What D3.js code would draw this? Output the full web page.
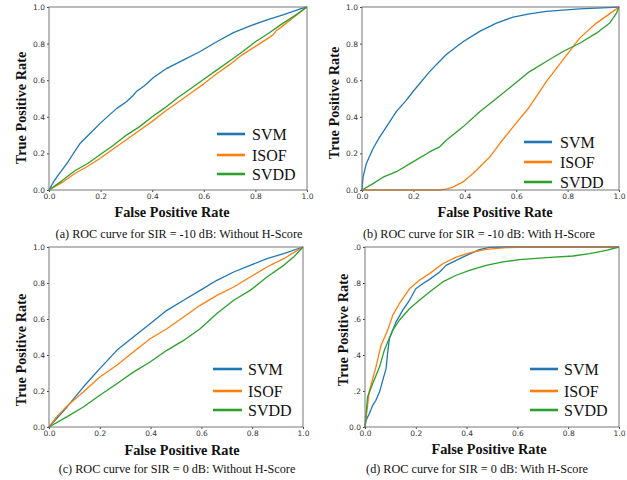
<!DOCTYPE html>
<html>
<head>
<meta charset="utf-8">
<script src="https://cdn.jsdelivr.net/npm/d3@7"></script>
<style>
  html, body { margin: 0; padding: 0; background: #fff; }
  svg { display: block; }
  .serif { font-family: "Liberation Serif", Tinos, "Times New Roman", Times, "DejaVu Serif", serif; }
  .sans { font-family: "DejaVu Sans", sans-serif; }
</style>
</head>
<body>
<svg id="chart" width="627" height="480"></svg>
<script>
// ---------------- DATA ----------------
const seriesNames = ["SVM", "ISOF", "SVDD"];
const seriesColors = ["#1f77b4", "#ff7f0e", "#2ca02c"];
const xTickLabels = ["0.0", "0.2", "0.4", "0.6", "0.8", "1.0"];
const yTickLabels = ["0.0", "0.2", "0.4", "0.6", "0.8", "1.0"];
const yTickLabelsD = ["0.0", ".2", ".4", ".6", ".8", ".0"];
const tickValues = [0, 0.2, 0.4, 0.6, 0.8, 1.0];
const captions = [
  "(a) ROC curve for SIR = -10 dB: Without H-Score",
  "(b) ROC curve for SIR = -10 dB: With H-Score",
  "(c) ROC curve for SIR = 0 dB: Without H-Score",
  "(d) ROC curve for SIR = 0 dB: With H-Score"
];
const xTitle = "False Positive Rate";
const yTitle = "True Positive Rate";

// (a) SIR = -10 dB, without H-Score  [FPR, TPR]
const aSVM = [[0,0],[0.02,0.05],[0.04,0.09],[0.069,0.144],[0.09,0.19],[0.12,0.254],[0.16,0.31],[0.198,0.364],[0.23,0.405],[0.263,0.446],[0.30,0.482],[0.325,0.515],[0.34,0.54],[0.37,0.57],[0.405,0.615],[0.457,0.665],[0.52,0.71],[0.586,0.757],[0.65,0.81],[0.715,0.86],[0.78,0.897],[0.845,0.93],[0.91,0.958],[0.974,0.99],[1,1]];
const aISOF = [[0,0],[0.05,0.04],[0.1,0.09],[0.15,0.13],[0.2,0.175],[0.25,0.225],[0.3,0.275],[0.35,0.325],[0.4,0.375],[0.45,0.43],[0.5,0.48],[0.55,0.53],[0.6,0.58],[0.65,0.635],[0.7,0.685],[0.75,0.74],[0.8,0.785],[0.85,0.83],[0.87,0.85],[0.88,0.87],[0.9,0.89],[0.95,0.945],[1,1]];
const aSVDD = [[0,0],[0.05,0.05],[0.1,0.105],[0.15,0.145],[0.2,0.195],[0.25,0.245],[0.3,0.3],[0.35,0.345],[0.4,0.4],[0.45,0.45],[0.5,0.505],[0.55,0.555],[0.6,0.605],[0.65,0.655],[0.7,0.705],[0.75,0.755],[0.8,0.81],[0.85,0.855],[0.9,0.905],[0.95,0.95],[1,1]];

// (b) SIR = -10 dB, with H-Score
const bSVM = [[0,0],[0.004,0.07],[0.017,0.145],[0.043,0.227],[0.069,0.29],[0.095,0.345],[0.134,0.43],[0.172,0.49],[0.198,0.537],[0.263,0.647],[0.328,0.74],[0.393,0.81],[0.458,0.867],[0.523,0.912],[0.588,0.945],[0.652,0.963],[0.717,0.976],[0.847,0.99],[0.977,0.998],[1,1]];
const bISOF = [[0,0],[0.3,0],[0.328,0.005],[0.354,0.016],[0.393,0.044],[0.432,0.09],[0.458,0.126],[0.497,0.18],[0.536,0.254],[0.588,0.345],[0.652,0.455],[0.717,0.592],[0.782,0.711],[0.847,0.83],[0.912,0.912],[0.977,0.976],[1,1]];
const bSVDD = [[0,0],[0.043,0.035],[0.082,0.07],[0.134,0.1],[0.198,0.154],[0.263,0.208],[0.302,0.236],[0.328,0.272],[0.393,0.345],[0.458,0.428],[0.523,0.5],[0.588,0.574],[0.652,0.647],[0.717,0.702],[0.782,0.757],[0.847,0.802],[0.912,0.857],[0.964,0.912],[0.99,0.967],[1,1]];

// (c) SIR = 0 dB, without H-Score
const cSVM = [[0,0],[0.07,0.11],[0.135,0.222],[0.2,0.324],[0.267,0.426],[0.332,0.5],[0.398,0.574],[0.464,0.648],[0.53,0.704],[0.595,0.759],[0.661,0.815],[0.727,0.861],[0.792,0.898],[0.858,0.935],[0.924,0.963],[1,1]];
const cISOF = [[0,0],[0.03,0.056],[0.07,0.115],[0.135,0.194],[0.2,0.278],[0.267,0.343],[0.332,0.417],[0.398,0.49],[0.464,0.546],[0.53,0.611],[0.595,0.676],[0.661,0.731],[0.727,0.778],[0.792,0.833],[0.858,0.889],[0.924,0.935],[1,1]];
const cSVDD = [[0,0],[0.07,0.056],[0.135,0.111],[0.2,0.176],[0.267,0.24],[0.332,0.305],[0.398,0.361],[0.464,0.426],[0.53,0.481],[0.595,0.546],[0.661,0.63],[0.727,0.704],[0.792,0.759],[0.858,0.833],[0.924,0.898],[0.963,0.944],[1,1]];

// (d) SIR = 0 dB, with H-Score
const dSVM = [[0,0],[0.004,0.037],[0.017,0.074],[0.03,0.12],[0.043,0.148],[0.057,0.194],[0.07,0.26],[0.083,0.324],[0.089,0.41],[0.096,0.49],[0.109,0.537],[0.122,0.583],[0.148,0.648],[0.175,0.704],[0.2,0.768],[0.227,0.796],[0.254,0.82],[0.293,0.86],[0.319,0.898],[0.385,0.944],[0.45,0.985],[0.49,0.998],[0.55,1],[1,1]];
const dISOF = [[0,0],[0.017,0.2],[0.043,0.333],[0.063,0.453],[0.089,0.537],[0.109,0.62],[0.135,0.685],[0.175,0.768],[0.214,0.815],[0.254,0.852],[0.306,0.907],[0.359,0.944],[0.411,0.967],[0.477,0.987],[0.556,0.996],[0.648,1],[1,1]];
const dSVDD = [[0,0],[0.01,0.167],[0.03,0.24],[0.057,0.333],[0.076,0.426],[0.109,0.537],[0.135,0.593],[0.175,0.657],[0.214,0.704],[0.254,0.75],[0.306,0.806],[0.359,0.843],[0.411,0.87],[0.477,0.898],[0.543,0.917],[0.608,0.93],[0.714,0.941],[0.819,0.95],[0.884,0.963],[0.95,0.981],[1,1]];

// ---------------- LAYOUT ----------------
const panels = [
  { series: [aSVM, aISOF, aSVDD], yLabels: yTickLabels, caption: captions[0],
    L: 49, R: 307, T: 7, B: 190,
    xt: [172, 217], yt: [21, 108], cap: [179, 238],
    leg: { x0: 217, x1: 245, tx: 252, ys: [134, 155, 174] } },
  { series: [bSVM, bISOF, bSVDD], yLabels: yTickLabels, caption: captions[1],
    L: 362, R: 619, T: 7, B: 190,
    xt: [495, 217], yt: [334, 103], cap: [479, 238],
    leg: { x0: 524, x1: 552, tx: 560, ys: [142, 162, 182] } },
  { series: [cSVM, cISOF, cSVDD], yLabels: yTickLabels, caption: captions[2],
    L: 49, R: 303, T: 247, B: 427,
    xt: [182, 455], yt: [21, 350], cap: [177, 473],
    leg: { x0: 213, x1: 242, tx: 248, ys: [369, 391, 410] } },
  { series: [dSVM, dISOF, dSVDD], yLabels: yTickLabelsD, caption: captions[3],
    L: 365, R: 619, T: 247, B: 427,
    xt: [489, 454], yt: [343, 330], cap: [477, 473],
    leg: { x0: 530, x1: 558, tx: 564, ys: [369, 391, 410] } }
];

const svg = d3.select("#chart");

panels.forEach(p => {
  const x = d3.scaleLinear().domain([0, 1]).range([p.L, p.R]);
  const y = d3.scaleLinear().domain([0, 1]).range([p.B, p.T]);
  const g = svg.append("g");

  // axes
  const xAxis = d3.axisBottom(x).tickValues(tickValues)
    .tickFormat((d, i) => xTickLabels[i]).tickSize(2).tickPadding(1.5);
  const yAxis = d3.axisLeft(y).tickValues(tickValues)
    .tickFormat((d, i) => p.yLabels[i]).tickSize(2).tickPadding(2);
  const gx = g.append("g").attr("transform", `translate(0,${p.B})`).call(xAxis);
  const gy = g.append("g").attr("transform", `translate(${p.L},0)`).call(yAxis);
  [gx, gy].forEach(a => {
    a.attr("font-family", null).attr("font-size", null);
    a.select(".domain").remove();
    a.selectAll(".tick line").attr("stroke", "#444");
    a.selectAll(".tick text").attr("fill", "#333")
      .attr("class", "sans").style("font-size", "7.5px");
  });

  // lines
  const line = d3.line().x(d => x(d[0])).y(d => y(d[1]));
  p.series.forEach((s, i) => {
    g.append("path").datum(s)
      .attr("d", line)
      .attr("fill", "none")
      .attr("stroke", seriesColors[i])
      .attr("stroke-width", 1.3)
      .attr("stroke-linejoin", "round");
  });

  // frame
  g.append("rect")
    .attr("x", p.L).attr("y", p.T)
    .attr("width", p.R - p.L).attr("height", p.B - p.T)
    .attr("fill", "none").attr("stroke", "#777").attr("stroke-width", 1);

  // legend
  seriesNames.forEach((n, i) => {
    const ly = p.leg.ys[i];
    g.append("line").attr("x1", p.leg.x0).attr("x2", p.leg.x1)
      .attr("y1", ly).attr("y2", ly)
      .attr("stroke", seriesColors[i]).attr("stroke-width", 2.6);
    g.append("text").attr("class", "serif")
      .attr("x", p.leg.tx).attr("y", ly).attr("dy", "0.35em")
      .style("font-size", "16px")
      .attr("fill", "#111").text(n);
  });

  // axis titles
  g.append("text").attr("class", "serif")
    .attr("x", p.xt[0]).attr("y", p.xt[1])
    .attr("text-anchor", "middle")
    .style("font-size", "14.3px").style("font-weight", "bold")
    .attr("fill", "#111").text(xTitle);
  g.append("text").attr("class", "serif")
    .attr("transform", `translate(${p.yt[0]},${p.yt[1]}) rotate(-90)`)
    .attr("dy", "0.35em").attr("text-anchor", "middle")
    .style("font-size", "14.3px").style("font-weight", "bold")
    .attr("fill", "#111").text(yTitle);

  // caption
  g.append("text").attr("class", "serif")
    .attr("x", p.cap[0]).attr("y", p.cap[1])
    .attr("text-anchor", "middle")
    .style("font-size", "12.2px")
    .attr("fill", "#111").text(p.caption);
});
</script>
</body>
</html>
